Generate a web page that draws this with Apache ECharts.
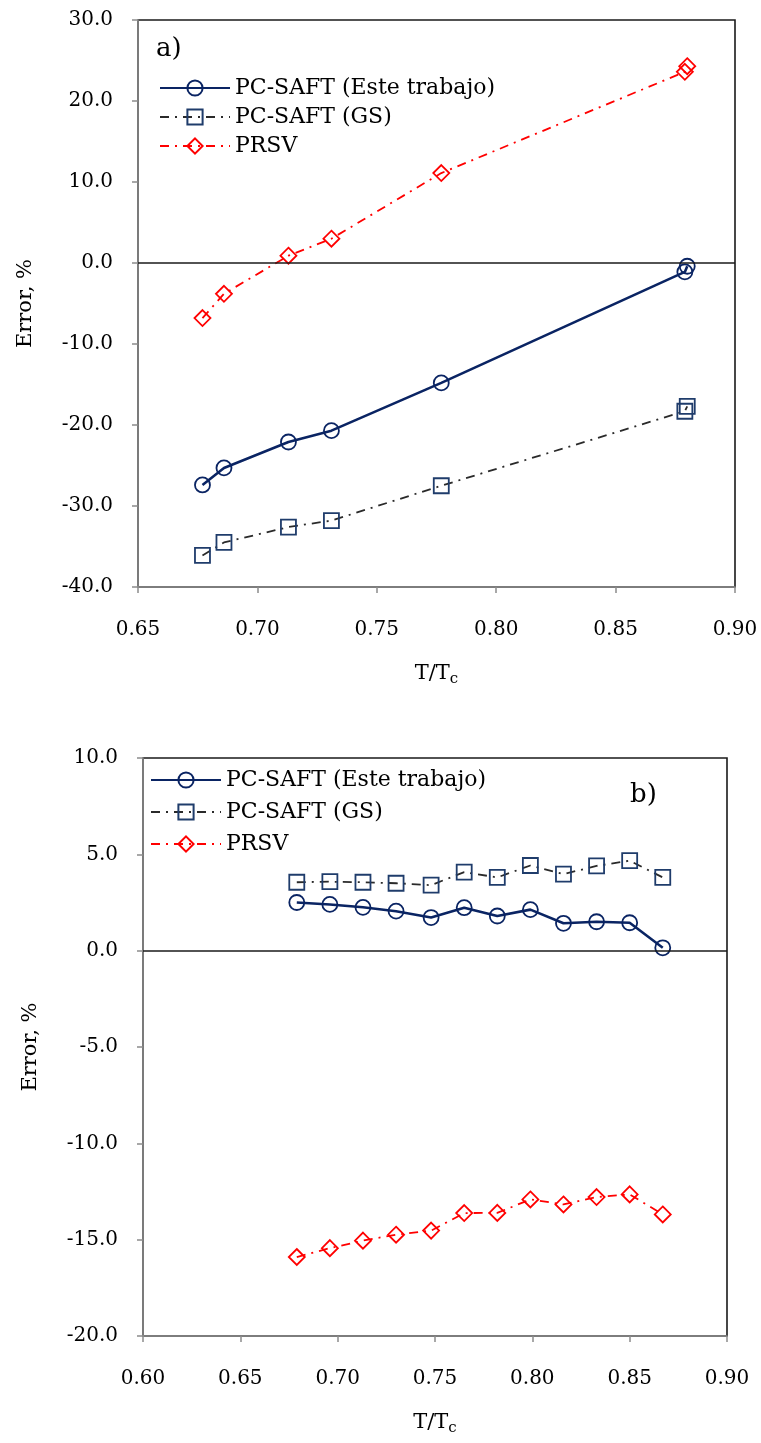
<!DOCTYPE html>
<html>
<head>
<meta charset="utf-8">
<script src="https://cdn.jsdelivr.net/npm/echarts@6/dist/echarts.min.js"></script>
<style>
html,body{margin:0;padding:0;background:#fff;}
#chart{width:761px;height:1443px;}
</style>
</head>
<body>
<div id="chart"></div>
<script>
// ---- Data ----
var seriesNames = ['PC-SAFT (Este trabajo)', 'PC-SAFT (GS)', 'PRSV'];

// Panel a)
var xA = [0.677, 0.686, 0.713, 0.731, 0.777, 0.879, 0.880];
var esteA = [-27.4, -25.3, -22.1, -20.7, -14.8, -1.1, -0.4];
var gsA = [-36.1, -34.5, -32.6, -31.8, -27.5, -18.3, -17.7];
var prsvA = [-6.8, -3.8, 0.9, 3.0, 11.1, 23.6, 24.3];

// Panel b)
var xB = [0.679, 0.696, 0.713, 0.730, 0.748, 0.765, 0.782, 0.799, 0.816, 0.833, 0.850, 0.867];
var esteB = [2.50, 2.40, 2.25, 2.05, 1.72, 2.23, 1.80, 2.13, 1.42, 1.50, 1.45, 0.15];
var gsB = [3.55, 3.58, 3.55, 3.50, 3.40, 4.08, 3.80, 4.42, 3.97, 4.40, 4.67, 3.80];
var prsvB = [-15.90, -15.44, -15.05, -14.74, -14.53, -13.62, -13.61, -12.91, -13.17, -12.79, -12.65, -13.69];

// Axis ticks
var xTicksA = {min: 0.65, max: 0.90, interval: 0.05};
var yTicksA = {min: -40, max: 30, interval: 10};
var xTicksB = {min: 0.60, max: 0.90, interval: 0.05};
var yTicksB = {min: -20, max: 10, interval: 5};

var panelLabels = ['a)', 'b)'];
var xAxisName = 'T/T';
var xAxisSub = 'c';
var yAxisName = 'Error, %';

// ---- Styling ----
var FONT = 'DejaVu Serif';
var NAVY = '#0a2463';
var SQ = '#1f3c6b';
var GSLINE = '#2a2a2a';
var RED = '#ff0000';
var AXIS = '#8c8c8c';

function zip(xs, ys) { return xs.map(function (x, i) { return [x, ys[i]]; }); }

function xAxisCfg(gi, t) {
  return {
    type: 'value', gridIndex: gi, min: t.min, max: t.max, interval: t.interval,
    axisLine: {show: true, onZero: false, lineStyle: {color: AXIS, width: 1.5}},
    axisTick: {show: true, inside: false, length: 6, lineStyle: {color: AXIS, width: 1.5}},
    splitLine: {show: false},
    axisLabel: {color: '#000', fontFamily: FONT, fontSize: 20, margin: 33,
      formatter: function (v) { return v.toFixed(2); }},
    name: '{a|' + xAxisName + '}{b|' + xAxisSub + '}',
    nameLocation: 'middle', nameGap: 74,
    nameTextStyle: {
      rich: {
        a: {fontFamily: FONT, fontSize: 21, color: '#000'},
        b: {fontFamily: FONT, fontSize: 15, color: '#000', padding: [11, 0, 0, 0]}
      }
    }
  };
}
function yAxisCfg(gi, t) {
  return {
    type: 'value', gridIndex: gi, min: t.min, max: t.max, interval: t.interval,
    axisLine: {show: true, onZero: false, lineStyle: {color: AXIS, width: 1.5}},
    axisTick: {show: true, inside: false, length: 6, lineStyle: {color: AXIS, width: 1.5}},
    splitLine: {show: false},
    axisLabel: {color: '#000', fontFamily: FONT, fontSize: 20, margin: 25,
      formatter: function (v) { return v.toFixed(1); }},
    name: yAxisName, nameLocation: 'middle', nameGap: 102, nameRotate: 90,
    nameTextStyle: {fontFamily: FONT, fontSize: 21, color: '#000'}
  };
}

function makeSeries(gi, xs, este, gs, prsv) {
  return [
    {
      name: seriesNames[0], type: 'line', xAxisIndex: gi, yAxisIndex: gi,
      data: zip(xs, este), symbol: 'circle', symbolSize: 15,
      lineStyle: {color: NAVY, width: 2.6, type: 'solid'},
      itemStyle: {color: 'rgba(255,255,255,0)', borderColor: NAVY, borderWidth: 1.8},
      z: 4,
      markLine: {
        silent: true, symbol: ['none', 'none'], label: {show: false},
        lineStyle: {color: '#1a1a1a', width: 1.6, type: 'solid'},
        data: [{yAxis: 0}]
      }
    },
    {
      name: seriesNames[1], type: 'line', xAxisIndex: gi, yAxisIndex: gi,
      data: zip(xs, gs), symbol: 'rect', symbolSize: 15,
      lineStyle: {color: GSLINE, width: 1.8, type: [9, 6, 2, 6]},
      itemStyle: {color: 'rgba(255,255,255,0)', borderColor: SQ, borderWidth: 1.8},
      z: 3
    },
    {
      name: seriesNames[2], type: 'line', xAxisIndex: gi, yAxisIndex: gi,
      data: zip(xs, prsv), symbol: 'diamond', symbolSize: [16, 16],
      lineStyle: {color: RED, width: 1.8, type: [9, 6, 2, 6]},
      itemStyle: {color: 'rgba(255,255,255,0)', borderColor: RED, borderWidth: 1.8},
      z: 3
    }
  ];
}

var chart = echarts.init(document.getElementById('chart'), null, {renderer: 'canvas'});
var legendBase = {
  orient: 'vertical', itemWidth: 70, itemHeight: 19, padding: 0,
  textStyle: {fontFamily: FONT, fontSize: 22, color: '#000'},
  data: seriesNames, selectedMode: false
};
chart.setOption({
  animation: false,
  backgroundColor: '#fff',
  title: [
    {text: panelLabels[0], left: 156, top: 36, padding: 0,
      textStyle: {fontFamily: FONT, fontSize: 26, fontWeight: 'normal', color: '#000'}},
    {text: panelLabels[1], left: 630, top: 782, padding: 0,
      textStyle: {fontFamily: FONT, fontSize: 26, fontWeight: 'normal', color: '#000'}}
  ],
  legend: [
    Object.assign({}, legendBase, {left: 159, top: 77, itemGap: 7}),
    Object.assign({}, legendBase, {left: 150, top: 769, itemGap: 10})
  ],
  grid: [
    {left: 138, top: 20, width: 597, height: 567, show: true, borderColor: '#1a1a1a', borderWidth: 1.6, backgroundColor: 'transparent'},
    {left: 143, top: 758, width: 584, height: 578, show: true, borderColor: '#1a1a1a', borderWidth: 1.6, backgroundColor: 'transparent'}
  ],
  xAxis: [xAxisCfg(0, xTicksA), xAxisCfg(1, xTicksB)],
  yAxis: [yAxisCfg(0, yTicksA), yAxisCfg(1, yTicksB)],
  series: makeSeries(0, xA, esteA, gsA, prsvA).concat(makeSeries(1, xB, esteB, gsB, prsvB))
});
</script>
</body>
</html>
